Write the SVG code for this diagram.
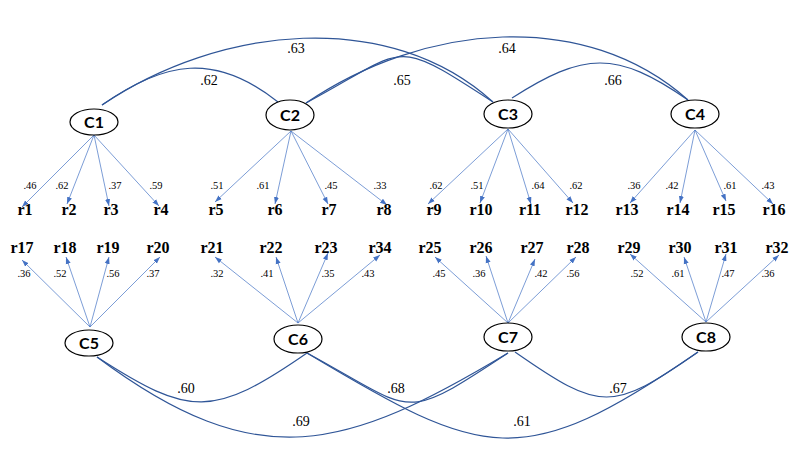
<svg xmlns="http://www.w3.org/2000/svg" width="800" height="450" viewBox="0 0 800 450">
<defs>
<marker id="ah" markerWidth="7" markerHeight="6" refX="7" refY="3" orient="auto" markerUnits="userSpaceOnUse">
<path d="M0,0.5 L7,3 L0,5.5 Z" fill="#4472C4"/>
</marker>
<style>
.cv{fill:none;stroke:#2F5597;stroke-width:1.2}
.ld{stroke:#4472C4;stroke-width:0.7;marker-end:url(#ah)}
.el{fill:#fff;stroke:#000;stroke-width:1.2}
.cn{font-family:Lato,"Liberation Sans",sans-serif;font-weight:bold;font-size:16px;text-anchor:middle}
.rn{font-family:"Liberation Serif",serif;font-weight:bold;font-size:16px;text-anchor:middle}
.lv{font-family:"Liberation Serif",serif;font-size:10.5px;text-anchor:middle}
.cl{font-family:"Liberation Serif",serif;font-size:14px;text-anchor:middle}
</style>
</defs>
<rect width="800" height="450" fill="#fff"/>
<g id="connectors">
<path class="cv" d="M102,105 C165,61 215,52 278,102"/>
<path class="cv" d="M102,105 C220,25 390,8 493,102"/>
<path class="cv" d="M306,103 C409,48 390,35 493,102"/>
<path class="cv" d="M306,103 C424,23 585,8 688,100"/>
<path class="cv" d="M512,98 C584,52 616,50 688,100"/>
<path class="cv" d="M97,357 C190,417 213,418 307,353"/>
<path class="cv" d="M97,357 C259,478 346,450 508,353"/>
<path class="cv" d="M307,353 C416,412 399,425 508,353"/>
<path class="cv" d="M307,353 C484,459 521,474 698,352"/>
<path class="cv" d="M515,352 C601,412 612,412 698,352"/>
<line class="ld" x1="94" y1="135" x2="22" y2="207"/>
<line class="ld" x1="94" y1="135" x2="67" y2="204"/>
<line class="ld" x1="94" y1="135" x2="109" y2="206"/>
<line class="ld" x1="94" y1="135" x2="159" y2="206"/>
<line class="ld" x1="291" y1="131" x2="215" y2="202"/>
<line class="ld" x1="291" y1="131" x2="275" y2="204"/>
<line class="ld" x1="291" y1="131" x2="328" y2="204"/>
<line class="ld" x1="291" y1="131" x2="387" y2="205"/>
<line class="ld" x1="508" y1="129" x2="428" y2="204"/>
<line class="ld" x1="508" y1="129" x2="480" y2="203"/>
<line class="ld" x1="508" y1="129" x2="531" y2="204"/>
<line class="ld" x1="508" y1="129" x2="573" y2="203"/>
<line class="ld" x1="695" y1="130" x2="630" y2="203"/>
<line class="ld" x1="695" y1="130" x2="680" y2="203"/>
<line class="ld" x1="695" y1="130" x2="726" y2="201"/>
<line class="ld" x1="695" y1="130" x2="773" y2="204"/>
<line class="ld" x1="90" y1="327" x2="22" y2="260"/>
<line class="ld" x1="90" y1="327" x2="66" y2="257"/>
<line class="ld" x1="90" y1="327" x2="109" y2="257"/>
<line class="ld" x1="90" y1="327" x2="160" y2="257"/>
<line class="ld" x1="298" y1="323" x2="215" y2="257"/>
<line class="ld" x1="298" y1="323" x2="276" y2="257"/>
<line class="ld" x1="298" y1="323" x2="328" y2="253"/>
<line class="ld" x1="298" y1="323" x2="380" y2="255"/>
<line class="ld" x1="508" y1="323" x2="435" y2="257"/>
<line class="ld" x1="508" y1="323" x2="486" y2="256"/>
<line class="ld" x1="508" y1="323" x2="535" y2="259"/>
<line class="ld" x1="508" y1="323" x2="576" y2="257"/>
<line class="ld" x1="706" y1="322" x2="630" y2="254"/>
<line class="ld" x1="706" y1="322" x2="684" y2="257"/>
<line class="ld" x1="706" y1="322" x2="726" y2="254"/>
<line class="ld" x1="706" y1="322" x2="779" y2="255"/>
</g>
<g id="corr-labels">
<text class="cl" x="209" y="85">.62</text>
<text class="cl" x="296" y="53">.63</text>
<text class="cl" x="402" y="85">.65</text>
<text class="cl" x="507" y="53">.64</text>
<text class="cl" x="613" y="85">.66</text>
<text class="cl" x="186" y="393">.60</text>
<text class="cl" x="301" y="426">.69</text>
<text class="cl" x="396" y="393">.68</text>
<text class="cl" x="522" y="426">.61</text>
<text class="cl" x="618" y="393">.67</text>
</g>
<g id="loading-labels">
<text class="lv" x="30" y="189">.46</text>
<text class="lv" x="62" y="189">.62</text>
<text class="lv" x="115" y="189">.37</text>
<text class="lv" x="156" y="189">.59</text>
<text class="lv" x="217" y="189">.51</text>
<text class="lv" x="263" y="189">.61</text>
<text class="lv" x="331" y="189">.45</text>
<text class="lv" x="380" y="189">.33</text>
<text class="lv" x="436" y="189">.62</text>
<text class="lv" x="477" y="189">.51</text>
<text class="lv" x="538" y="189">.64</text>
<text class="lv" x="576" y="189">.62</text>
<text class="lv" x="634" y="189">.36</text>
<text class="lv" x="672" y="189">.42</text>
<text class="lv" x="730" y="189">.61</text>
<text class="lv" x="768" y="189">.43</text>
<text class="lv" x="24" y="277">.36</text>
<text class="lv" x="60" y="277">.52</text>
<text class="lv" x="113" y="277">.56</text>
<text class="lv" x="153" y="277">.37</text>
<text class="lv" x="217" y="277">.32</text>
<text class="lv" x="267" y="277">.41</text>
<text class="lv" x="328" y="277">.35</text>
<text class="lv" x="368" y="277">.43</text>
<text class="lv" x="439" y="277">.45</text>
<text class="lv" x="479" y="277">.36</text>
<text class="lv" x="541" y="277">.42</text>
<text class="lv" x="573" y="277">.56</text>
<text class="lv" x="637" y="277">.52</text>
<text class="lv" x="678" y="277">.61</text>
<text class="lv" x="728" y="277">.47</text>
<text class="lv" x="768" y="277">.36</text>
</g>
<g id="C1"><ellipse class="el" cx="94" cy="122" rx="24" ry="13"/><text class="cn" x="94" y="128">C1</text></g>
<g id="C2"><ellipse class="el" cx="290" cy="115" rx="24" ry="15"/><text class="cn" x="290" y="121">C2</text></g>
<g id="C3"><ellipse class="el" cx="508" cy="114" rx="24" ry="14"/><text class="cn" x="508" y="120">C3</text></g>
<g id="C4"><ellipse class="el" cx="695" cy="114" rx="24" ry="14"/><text class="cn" x="695" y="120">C4</text></g>
<g id="C5"><ellipse class="el" cx="89" cy="343" rx="24" ry="13"/><text class="cn" x="89" y="349">C5</text></g>
<g id="C6"><ellipse class="el" cx="298" cy="339" rx="24" ry="14"/><text class="cn" x="298" y="345">C6</text></g>
<g id="C7"><ellipse class="el" cx="508" cy="337" rx="24" ry="14"/><text class="cn" x="508" y="343">C7</text></g>
<g id="C8"><ellipse class="el" cx="706" cy="337" rx="24" ry="14"/><text class="cn" x="706" y="343">C8</text></g>
<g id="r1"><text class="rn" x="25" y="215">r1</text></g>
<g id="r2"><text class="rn" x="69" y="215">r2</text></g>
<g id="r3"><text class="rn" x="111" y="215">r3</text></g>
<g id="r4"><text class="rn" x="161" y="215">r4</text></g>
<g id="r5"><text class="rn" x="216" y="215">r5</text></g>
<g id="r6"><text class="rn" x="275" y="215">r6</text></g>
<g id="r7"><text class="rn" x="329" y="215">r7</text></g>
<g id="r8"><text class="rn" x="384" y="215">r8</text></g>
<g id="r9"><text class="rn" x="434" y="215">r9</text></g>
<g id="r10"><text class="rn" x="481" y="215">r10</text></g>
<g id="r11"><text class="rn" x="530" y="215">r11</text></g>
<g id="r12"><text class="rn" x="577" y="215">r12</text></g>
<g id="r13"><text class="rn" x="627" y="215">r13</text></g>
<g id="r14"><text class="rn" x="678" y="215">r14</text></g>
<g id="r15"><text class="rn" x="724" y="215">r15</text></g>
<g id="r16"><text class="rn" x="774" y="215">r16</text></g>
<g id="r17"><text class="rn" x="22" y="253">r17</text></g>
<g id="r18"><text class="rn" x="65" y="253">r18</text></g>
<g id="r19"><text class="rn" x="108" y="253">r19</text></g>
<g id="r20"><text class="rn" x="158" y="253">r20</text></g>
<g id="r21"><text class="rn" x="212" y="253">r21</text></g>
<g id="r22"><text class="rn" x="271" y="253">r22</text></g>
<g id="r23"><text class="rn" x="326" y="253">r23</text></g>
<g id="r34"><text class="rn" x="380" y="253">r34</text></g>
<g id="r25"><text class="rn" x="430" y="253">r25</text></g>
<g id="r26"><text class="rn" x="481" y="253">r26</text></g>
<g id="r27"><text class="rn" x="532" y="253">r27</text></g>
<g id="r28"><text class="rn" x="578" y="253">r28</text></g>
<g id="r29"><text class="rn" x="629" y="253">r29</text></g>
<g id="r30"><text class="rn" x="680" y="253">r30</text></g>
<g id="r31"><text class="rn" x="726" y="253">r31</text></g>
<g id="r32"><text class="rn" x="777" y="253">r32</text></g>
</svg>
